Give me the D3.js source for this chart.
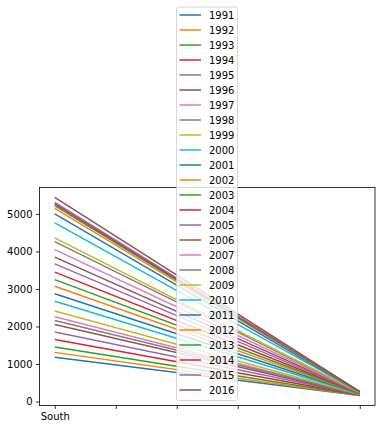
<!DOCTYPE html>
<html><head><meta charset="utf-8">
<script src="https://cdn.jsdelivr.net/npm/d3@7"></script>
<style>body{margin:0;background:#fff}svg{display:block;font-family:"DejaVu Sans",sans-serif}</style>
</head><body>
<svg id="c" width="381" height="429"></svg>
<script>
const years = [1991,1992,1993,1994,1995,1996,1997,1998,1999,2000,2001,2002,2003,2004,2005,2006,2007,2008,2009,2010,2011,2012,2013,2014,2015,2016];
const southValues = [1180,1310,1450,1650,1850,2050,2260,2160,2410,2670,2870,3070,3250,3450,3670,3850,4050,4260,4360,4760,5000,5150,5220,5265,5310,5440];
const endValues = [158,163,168,172,178,183,188,186,193,200,205,210,214,219,224,229,234,238,241,248,252,256,258,261,263,266];
const xTickPositions = [0,0.2,0.4,0.6,0.8,1.0];
const xTickLabels = ["South","","","","",""];
const yTickValues = [0,1000,2000,3000,4000,5000];
const colors = ["#1f77b4","#ff7f0e","#2ca02c","#d62728","#9467bd","#8c564b","#e377c2","#7f7f7f","#bcbd22","#17becf"];

const svg = d3.select("#c");
const L=39.5, R=375, T=187.5, B=405.5;
const allVals = southValues.concat(endValues);
const ymin = d3.min(allVals), ymax = d3.max(allVals), pad=(ymax-ymin)*0.05;
const x = d3.scaleLinear().domain([-0.05,1.05]).range([L,R]);
const y = d3.scaleLinear().domain([ymin-pad, ymax+pad]).range([B,T]);

const line = d3.line().x(d=>x(d[0])).y(d=>y(d[1]));
const g = svg.append("g");
years.forEach((yr,i)=>{
  g.append("path").attr("d", line([[0,southValues[i]],[1,endValues[i]]]))
    .attr("fill","none").attr("stroke",colors[i%10]).attr("stroke-width",1.5);
});

// axes
const xa = svg.append("g").attr("transform",`translate(0,${B})`)
  .call(d3.axisBottom(x).tickValues(xTickPositions).tickFormat((d,i)=>xTickLabels[i]).tickSize(3.5).tickPadding(3.5));
const ya = svg.append("g").attr("transform",`translate(${L},0)`)
  .call(d3.axisLeft(y).tickValues(yTickValues).tickFormat(d3.format("d")).tickSize(3.5).tickPadding(3.5));
[xa,ya].forEach(a=>{
  a.select(".domain").remove();
  a.selectAll("line").attr("stroke","#000").attr("stroke-width",0.8);
  a.selectAll("text").attr("font-size",10).attr("fill","#000").attr("font-family","DejaVu Sans");
});
svg.append("rect").attr("x",L).attr("y",T).attr("width",R-L).attr("height",B-T)
  .attr("fill","none").attr("stroke","#000").attr("stroke-width",0.8);

// legend
const lg = svg.append("g");
lg.append("rect").attr("x",176.5).attr("y",7).attr("width",61).attr("height",393.5).attr("rx",2)
  .attr("fill","#fff").attr("fill-opacity",0.8).attr("stroke","#ccc").attr("stroke-width",0.8);
years.forEach((yr,i)=>{
  const cy = 15 + i*15;
  lg.append("line").attr("x1",179.5).attr("x2",201).attr("y1",cy).attr("y2",cy)
    .attr("stroke",colors[i%10]).attr("stroke-width",1.5);
  lg.append("text").attr("x",209).attr("y",cy+3.6).attr("font-size",10).attr("fill","#000").text(yr);
});
</script>
</body></html>
